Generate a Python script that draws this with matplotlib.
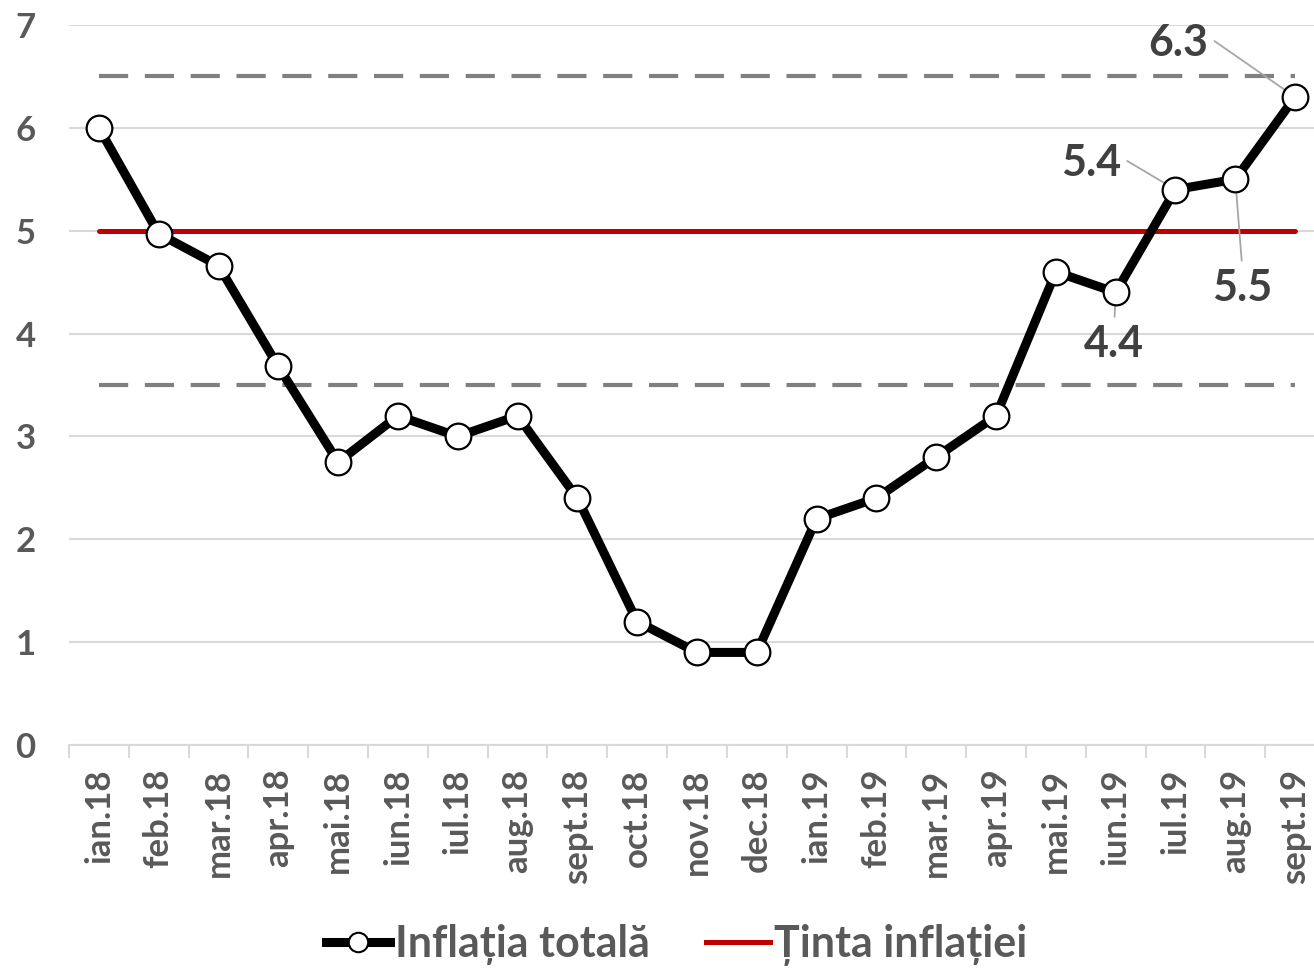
import matplotlib
matplotlib.use("Agg")
from matplotlib import pyplot as plt
from matplotlib.lines import Line2D

# data
months = ["ian.18", "feb.18", "mar.18", "apr.18", "mai.18", "iun.18", "iul.18",
          "aug.18", "sept.18", "oct.18", "nov.18", "dec.18", "ian.19", "feb.19",
          "mar.19", "apr.19", "mai.19", "iun.19", "iul.19", "aug.19", "sept.19"]
inflation = [6.0, 4.97, 4.66, 3.68, 2.75, 3.2, 3.0, 3.2, 2.4, 1.2, 0.9, 0.9,
             2.2, 2.4, 2.8, 3.2, 4.6, 4.4, 5.4, 5.5, 6.3]
target = 5.0
band_low = 3.5
band_high = 6.5
yticks = [0, 1, 2, 3, 4, 5, 6, 7]

# labelled points: index, label, text offset (pt), leader anchor on text
labels = [(20, "6.3", (-84, 39), (1.0, 0.65)),
          (18, "5.4", (-61, 19), (1.0, 0.65)),
          (19, "5.5", (5, -78), (0.5, 1.0)),
          (17, "4.4", (-1, -37), (0.5, 1.0))]

TXT = "#595959"
plt.rcParams["font.family"] = ["Lato", "DejaVu Sans"]

fig = plt.figure(figsize=(13.14, 9.76), dpi=100)
ax = fig.add_axes([69 / 1314, 1 - 745 / 976, 1256 / 1314, 720 / 976])

x = list(range(len(months)))
first, last = x[0], x[-1]

ax.plot(x, inflation, color="black", lw=6.5, marker="o", markersize=18.5,
        markerfacecolor="white", markeredgecolor="black", markeredgewidth=1.6,
        zorder=4, solid_capstyle="round")
ax.plot([first, last], [target, target], color="#c00000", lw=3.6, zorder=3,
        solid_capstyle="round")
ax.plot([first, last], [band_high, band_high], color="#808080", lw=3,
        dashes=(7, 4), zorder=2)
ax.plot([first, last], [band_low, band_low], color="#808080", lw=3,
        dashes=(7, 4), zorder=2)

for i, lab, off, rel in labels:
    ax.annotate(lab, xy=(x[i], inflation[i]), xytext=off, textcoords="offset points",
                ha="center", va="center", fontsize=31, fontweight="bold", color="#404040",
                zorder=3,
                arrowprops=dict(arrowstyle="-", color="#a6a6a6", lw=1.3,
                                relpos=rel, shrinkA=3, shrinkB=0))

ax.set_xlim(-0.5, len(months) - 0.5)
ax.set_ylim(0, 7)
ax.set_yticks(yticks)
ax.set_yticklabels([str(v) for v in yticks])
ax.set_xticks(x)
ax.set_xticklabels(months, rotation=90)
ax.set_xticks([v - 0.5 for v in x] + [last + 0.5], minor=True)

ax.grid(axis="y", color="#d9d9d9", lw=1.5, zorder=0)
ax.set_axisbelow(True)
for s in ["top", "right", "left"]:
    ax.spines[s].set_visible(False)
ax.spines["bottom"].set_color("#d9d9d9")
ax.spines["bottom"].set_linewidth(1.5)

ax.tick_params(axis="y", length=0, pad=24, labelsize=25, labelcolor=TXT)
ax.tick_params(axis="x", which="major", length=0, pad=17, labelsize=25, labelcolor=TXT)
ax.tick_params(axis="x", which="minor", length=9, width=1.5, color="#d9d9d9")
for t in ax.get_xticklabels() + ax.get_yticklabels():
    t.set_fontweight("bold")

handles = [Line2D([], [], color="black", lw=6.5, marker="o", markersize=14,
                  markerfacecolor="white", markeredgecolor="black", markeredgewidth=1.5),
           Line2D([], [], color="#c00000", lw=3.6)]
leg = fig.legend(handles, ["Inflația totală", "Ținta inflației"], loc="center",
                 bbox_to_anchor=(0.515, 0.032), ncol=2, frameon=False, fontsize=31,
                 handlelength=1.5, handletextpad=0.1, columnspacing=1.3)
for t in leg.get_texts():
    t.set_color(TXT)
    t.set_fontweight("bold")

fig.savefig("out.png", dpi=100)
